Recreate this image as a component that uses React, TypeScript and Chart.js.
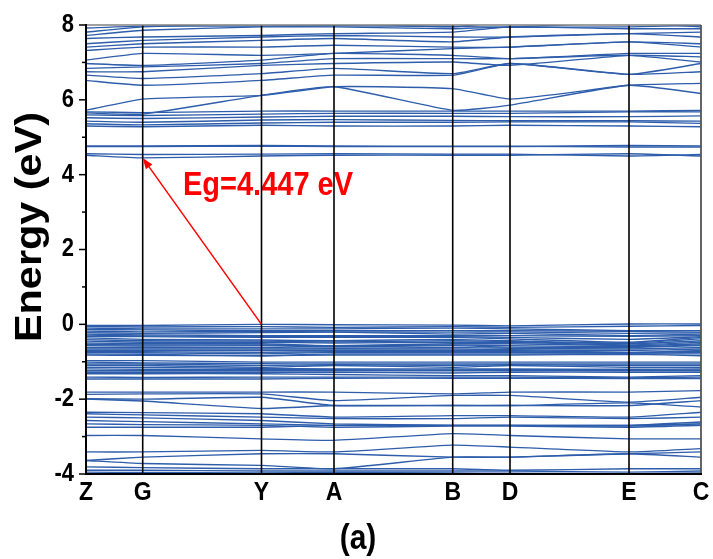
import React, { useEffect, useRef } from 'react';
import { Chart, registerables } from 'chart.js';

Chart.register(...registerables);

// High-symmetry points along the k-path (path length units)
const kLabels = ['Z', 'G', 'Y', 'A', 'B', 'D', 'E', 'C'];
const kPos = [0, 56.7, 175.5, 248, 366.7, 424, 543, 615];

const yTickValues = [-4, -2, 0, 2, 4, 6, 8];
const yMin = -4;
const yMax = 8;

// Energies (eV) at Z, G, Y, A, B, D, E, C
const conductionBands: number[][] = [
  [4.52, 4.447, 4.5, 4.52, 4.52, 4.52, 4.56, 4.5],
  [4.56, 4.54, 4.55, 4.56, 4.55, 4.55, 4.5, 4.54],
  [4.75, 4.75, 4.76, 4.75, 4.75, 4.75, 4.78, 4.77],
  [4.77, 4.77, 4.78, 4.77, 4.76, 4.76, 4.74, 4.74],
  [5.3, 5.28, 5.32, 5.3, 5.3, 5.32, 5.3, 5.28],
  [5.36, 5.33, 5.38, 5.4, 5.4, 5.41, 5.41, 5.37],
  [5.43, 5.4, 5.46, 5.47, 5.45, 5.44, 5.44, 5.43],
  [5.52, 5.5, 5.54, 5.56, 5.56, 5.55, 5.55, 5.57],
  [5.6, 5.58, 5.62, 5.64, 5.64, 5.64, 5.68, 5.68],
  [5.68, 5.66, 5.7, 5.7, 5.7, 5.7, 5.7, 5.72],
  [5.72, 6.02, 6.12, 6.35, 6.3, 6.02, 6.39, 6.44],
  [5.65, 5.62, 6.12, 6.35, 5.72, 5.86, 6.39, 6.17],
  [6.52, 6.39, 6.52, 6.66, 6.66, 6.97, 6.68, 6.75],
  [6.66, 6.57, 6.7, 6.84, 6.7, 6.97, 6.68, 6.97],
  [6.75, 6.75, 6.92, 6.97, 7.01, 6.92, 7.19, 7.15],
  [6.84, 6.88, 6.97, 7.1, 7.1, 7.1, 7.19, 7.01],
  [6.97, 6.92, 7.06, 7.24, 7.19, 7.1, 7.24, 7.24],
  [7.06, 7.24, 7.19, 7.24, 7.37, 7.41, 7.55, 7.41],
  [7.32, 7.41, 7.41, 7.46, 7.41, 7.41, 7.55, 7.5],
  [7.41, 7.5, 7.59, 7.64, 7.55, 7.68, 7.77, 7.68],
  [7.5, 7.59, 7.68, 7.72, 7.68, 7.68, 7.77, 7.81],
  [7.64, 7.68, 7.72, 7.77, 7.81, 7.95, 7.9, 7.9],
  [7.72, 7.86, 7.95, 7.95, 7.9, 7.95, 8.05, 7.95],
  [7.81, 7.95, 8.05, 8.05, 7.95, 8.1, 8.1, 8.1],
  [7.92, 7.97, 7.97, 7.98, 7.96, 7.94, 7.95, 7.99],
];

const valenceBands: number[][] = [
  [-0.03, -0.03, 0.0, -0.01, -0.02, -0.04, 0.01, 0.01],
  [-0.06, -0.07, -0.06, -0.08, -0.06, -0.08, -0.05, -0.03],
  [-0.1, -0.12, -0.12, -0.12, -0.1, -0.12, -0.17, -0.17],
  [-0.14, -0.15, -0.17, -0.17, -0.17, -0.17, -0.19, -0.21],
  [-0.18, -0.2, -0.19, -0.2, -0.21, -0.2, -0.24, -0.23],
  [-0.22, -0.24, -0.22, -0.21, -0.26, -0.24, -0.3, -0.26],
  [-0.26, -0.28, -0.3, -0.3, -0.3, -0.3, -0.32, -0.3],
  [-0.29, -0.31, -0.33, -0.33, -0.33, -0.35, -0.4, -0.33],
  [-0.32, -0.33, -0.35, -0.35, -0.35, -0.39, -0.48, -0.35],
  [-0.36, -0.4, -0.42, -0.44, -0.4, -0.44, -0.5, -0.39],
  [-0.41, -0.44, -0.45, -0.47, -0.44, -0.46, -0.52, -0.44],
  [-0.45, -0.48, -0.48, -0.5, -0.48, -0.48, -0.55, -0.48],
  [-0.5, -0.52, -0.52, -0.57, -0.52, -0.52, -0.57, -0.52],
  [-0.54, -0.55, -0.55, -0.58, -0.55, -0.57, -0.6, -0.55],
  [-0.57, -0.58, -0.57, -0.6, -0.57, -0.61, -0.62, -0.57],
  [-0.62, -0.62, -0.62, -0.64, -0.62, -0.64, -0.66, -0.62],
  [-0.66, -0.66, -0.66, -0.66, -0.66, -0.68, -0.7, -0.66],
  [-0.7, -0.7, -0.7, -0.7, -0.7, -0.7, -0.75, -0.7],
  [-0.73, -0.73, -0.75, -0.73, -0.72, -0.73, -0.76, -0.72],
  [-0.75, -0.76, -0.79, -0.75, -0.75, -0.75, -0.77, -0.75],
  [-0.79, -0.8, -0.84, -0.79, -0.79, -0.79, -0.79, -0.79],
  [-0.82, -0.83, -0.84, -0.82, -0.82, -0.82, -0.8, -0.84],
  [-0.97, -0.97, -1.01, -1.01, -1.01, -1.01, -1.01, -1.01],
  [-1.01, -1.03, -1.05, -1.06, -1.06, -1.06, -1.06, -1.06],
  [-1.06, -1.06, -1.1, -1.08, -1.1, -1.08, -1.1, -1.1],
  [-1.1, -1.1, -1.15, -1.1, -1.15, -1.1, -1.15, -1.15],
  [-1.15, -1.15, -1.18, -1.19, -1.19, -1.19, -1.2, -1.19],
  [-1.19, -1.2, -1.21, -1.21, -1.22, -1.21, -1.22, -1.22],
  [-1.24, -1.24, -1.24, -1.24, -1.24, -1.24, -1.24, -1.24],
  [-1.28, -1.28, -1.28, -1.28, -1.3, -1.28, -1.28, -1.28],
  [-1.32, -1.32, -1.32, -1.34, -1.37, -1.37, -1.41, -1.37],
  [-1.41, -1.42, -1.41, -1.41, -1.41, -1.41, -1.43, -1.41],
  [-1.46, -1.46, -1.46, -1.44, -1.44, -1.44, -1.45, -1.45],
  [-1.81, -1.81, -1.81, -1.81, -1.86, -1.81, -1.81, -1.77],
  [-1.87, -1.86, -1.86, -2.04, -1.9, -1.9, -2.08, -1.95],
  [-1.99, -2.0, -1.95, -2.17, -2.17, -2.17, -2.17, -2.04],
  [-2.0, -2.05, -2.25, -2.17, -2.17, -2.17, -2.1, -2.21],
  [-2.35, -2.36, -2.39, -2.48, -2.44, -2.44, -2.48, -2.35],
  [-2.39, -2.42, -2.48, -2.52, -2.52, -2.48, -2.52, -2.48],
  [-2.48, -2.5, -2.57, -2.66, -2.7, -2.7, -2.7, -2.61],
  [-2.57, -2.6, -2.66, -2.7, -2.7, -2.7, -2.72, -2.66],
  [-2.66, -2.68, -2.7, -2.75, -2.72, -2.72, -2.75, -2.7],
  [-2.75, -2.75, -2.75, -2.7, -2.7, -2.7, -2.7, -2.66],
  [-2.97, -2.97, -3.06, -3.1, -2.92, -2.97, -3.06, -3.06],
  [-3.41, -3.41, -3.37, -3.41, -3.23, -3.28, -3.41, -3.32],
  [-3.64, -3.55, -3.46, -3.46, -3.55, -3.55, -3.46, -3.41],
  [-3.64, -3.72, -3.77, -3.86, -3.55, -3.55, -3.46, -3.55],
  [-3.81, -3.83, -3.86, -3.86, -3.86, -3.9, -3.86, -3.86],
  [-3.9, -3.9, -3.92, -3.92, -3.92, -3.92, -3.95, -3.92],
  [-3.95, -3.96, -3.97, -3.96, -3.97, -3.98, -3.99, -3.97],
];

// Band gap annotation: VBM at Y (0 eV) -> CBM at G (4.447 eV)
const vbmK = kPos[2];
const vbmE = 0;
const cbmK = kPos[1];
const cbmE = 4.447;
const gapLabel = 'Eg=4.447 eV';
const yTitle = 'Energy (eV)';
const panelLabel = '(a)';

const FONT = '"Liberation Sans", Arial, Helvetica, sans-serif';
const STRETCH = 1.15;

function drawText(
  ctx: CanvasRenderingContext2D,
  text: string,
  x: number,
  y: number,
  size: number,
  align: CanvasTextAlign,
  color: string,
  rotate = false
) {
  ctx.save();
  ctx.translate(x, y);
  ctx.scale(1, STRETCH);
  if (rotate) ctx.rotate(-Math.PI / 2);
  ctx.font = `bold ${size}px ${FONT}`;
  ctx.textAlign = align;
  ctx.textBaseline = 'middle';
  ctx.fillStyle = color;
  ctx.fillText(text, 0, 0);
  ctx.restore();
}

const decorPlugin = {
  id: 'decor',
  afterDatasetsDraw(chart: any) {
    const { ctx, chartArea: ca, scales } = chart;
    const xs = scales.x;
    const ys = scales.y;
    ctx.save();

    // Gap label
    drawText(ctx, gapLabel, 183, 186, 29, 'left', '#ff0000');

    // vertical high-symmetry lines
    ctx.strokeStyle = '#000';
    ctx.lineWidth = 1.6;
    kPos.slice(1, -1).forEach((k) => {
      const px = xs.getPixelForValue(k);
      ctx.beginPath();
      ctx.moveTo(px, ca.top);
      ctx.lineTo(px, ca.bottom);
      ctx.stroke();
    });

    // frame
    ctx.strokeStyle = '#808080';
    ctx.lineWidth = 1.5;
    ctx.beginPath();
    ctx.moveTo(ca.left, ca.top);
    ctx.lineTo(ca.right, ca.top);
    ctx.stroke();
    ctx.strokeStyle = '#555';
    ctx.lineWidth = 1.8;
    ctx.beginPath();
    ctx.moveTo(ca.right, ca.top);
    ctx.lineTo(ca.right, ca.bottom);
    ctx.stroke();
    ctx.strokeStyle = '#000';
    ctx.lineWidth = 2;
    ctx.beginPath();
    ctx.moveTo(ca.left, ca.top - 1);
    ctx.lineTo(ca.left, ca.bottom);
    ctx.lineTo(ca.right + 1, ca.bottom);
    ctx.stroke();

    // y ticks (major + minor), outward
    ctx.lineWidth = 1.5;
    for (let v = yMin; v <= yMax; v += 1) {
      const py = ys.getPixelForValue(v);
      const len = v % 2 === 0 ? 7 : 4;
      ctx.beginPath();
      ctx.moveTo(ca.left, py);
      ctx.lineTo(ca.left - len, py);
      ctx.stroke();
    }
    yTickValues.forEach((v) => {
      drawText(ctx, String(v), 74, ys.getPixelForValue(v), 22, 'right', '#000');
    });

    // x labels
    kPos.forEach((k, i) => {
      drawText(ctx, kLabels[i], xs.getPixelForValue(k), 493, 23, 'center', '#000');
    });

    // titles
    drawText(ctx, yTitle, 31, 227, 36, 'center', '#000', true);
    drawText(ctx, panelLabel, 358, 539, 30, 'center', '#000');

    // arrow
    const x0 = xs.getPixelForValue(vbmK);
    const y0 = ys.getPixelForValue(vbmE);
    const x1 = xs.getPixelForValue(cbmK);
    const y1 = ys.getPixelForValue(cbmE);
    const ang = Math.atan2(y1 - y0, x1 - x0);
    const head = 11;
    const hw = 4;
    ctx.strokeStyle = '#ff0000';
    ctx.fillStyle = '#ff0000';
    ctx.lineWidth = 1.5;
    ctx.beginPath();
    ctx.moveTo(x0, y0);
    ctx.lineTo(x1 - Math.cos(ang) * head * 0.8, y1 - Math.sin(ang) * head * 0.8);
    ctx.stroke();
    const bx = x1 - Math.cos(ang) * head;
    const by = y1 - Math.sin(ang) * head;
    ctx.beginPath();
    ctx.moveTo(x1, y1);
    ctx.lineTo(bx + Math.sin(ang) * hw, by - Math.cos(ang) * hw);
    ctx.lineTo(bx - Math.sin(ang) * hw, by + Math.cos(ang) * hw);
    ctx.closePath();
    ctx.fill();

    ctx.restore();
  },
};

export default function App() {
  const canvasRef = useRef<HTMLCanvasElement | null>(null);

  useEffect(() => {
    if (!canvasRef.current) return;
    const bands = [...valenceBands, ...conductionBands];
    const datasets = bands.map((band, bi) => ({
      label: `band ${bi + 1}`,
      data: band.map((e, i) => ({ x: kPos[i], y: e })),
      borderColor: '#2d5dab',
      borderWidth: 1.35,
      pointRadius: 0,
      showLine: true,
      fill: false,
      tension: 0.15,
    }));

    const chart = new Chart(canvasRef.current, {
      type: 'scatter',
      data: { datasets },
      options: {
        responsive: false,
        animation: false,
        events: [],
        layout: { padding: { top: 25, right: 12, left: 0, bottom: 0 } },
        plugins: {
          legend: { display: false },
          tooltip: { enabled: false },
        },
        scales: {
          x: {
            type: 'linear',
            min: kPos[0],
            max: kPos[kPos.length - 1],
            ticks: { display: false },
            grid: { display: false },
            border: { display: false },
            afterFit: (s: any) => {
              s.height = 85;
            },
          },
          y: {
            type: 'linear',
            min: yMin,
            max: yMax,
            ticks: { display: false },
            grid: { display: false },
            border: { display: false },
            afterFit: (s: any) => {
              s.width = 86;
            },
          },
        },
      },
      plugins: [decorPlugin],
    } as any);

    return () => chart.destroy();
  }, []);

  return (
    <div style={{ position: 'absolute', left: 0, top: 0, width: 713, height: 559, background: '#fff' }}>
      <canvas ref={canvasRef} width={713} height={559} style={{ display: 'block' }} />
    </div>
  );
}
